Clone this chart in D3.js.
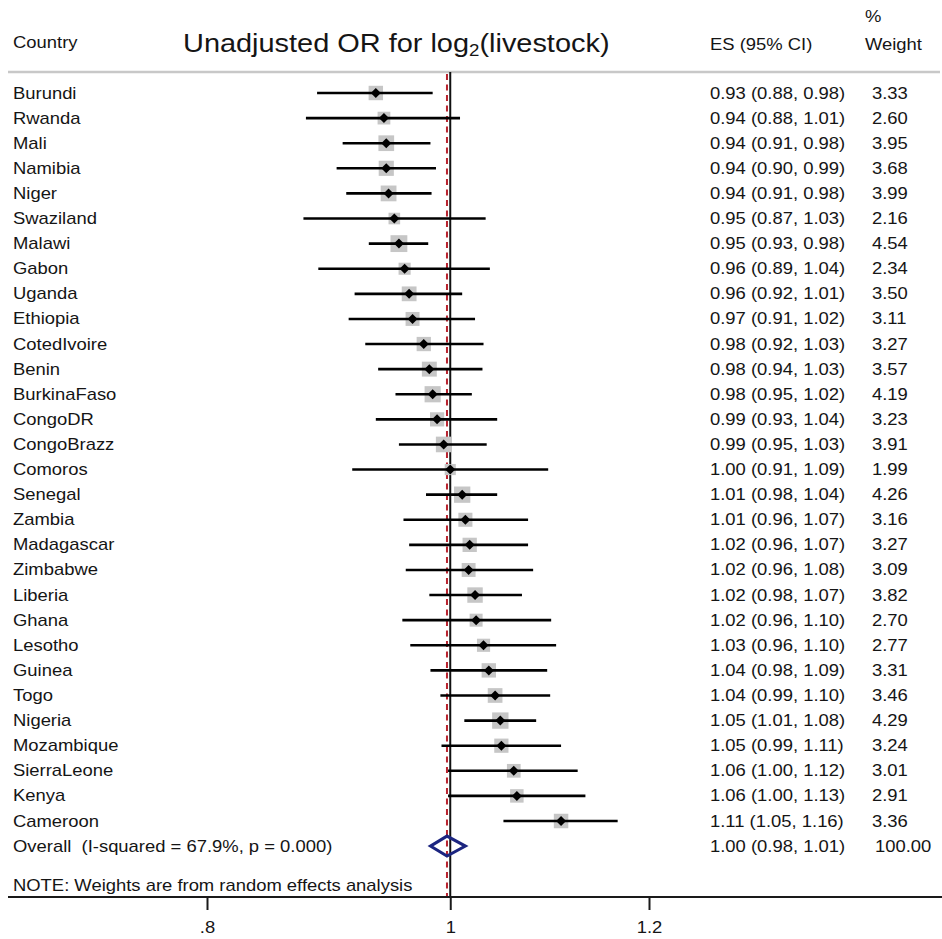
<!DOCTYPE html>
<html><head><meta charset="utf-8">
<script src="https://cdn.jsdelivr.net/npm/d3@7"></script>
<style>
body{margin:0;background:#fff}
text{font-family:"Liberation Sans",Arial,Helvetica,sans-serif;fill:#151515}
</style>
</head><body>
<svg id="c" width="942" height="939"></svg>
<script>
// ---------- data ----------
const countries = ["Burundi","Rwanda","Mali","Namibia","Niger","Swaziland","Malawi","Gabon","Uganda","Ethiopia",
  "CotedIvoire","Benin","BurkinaFaso","CongoDR","CongoBrazz","Comoros","Senegal","Zambia","Madagascar","Zimbabwe",
  "Liberia","Ghana","Lesotho","Guinea","Togo","Nigeria","Mozambique","SierraLeone","Kenya","Cameroon"];
const es = [0.934,0.941,0.943,0.943,0.945,0.950,0.954,0.959,0.963,0.966,
  0.976,0.981,0.984,0.988,0.994,1.000,1.011,1.014,1.018,1.017,
  1.023,1.024,1.031,1.036,1.042,1.047,1.048,1.060,1.063,1.107];
const lo = [0.885,0.876,0.906,0.901,0.909,0.874,0.928,0.886,0.916,0.911,
  0.925,0.936,0.951,0.934,0.954,0.914,0.978,0.958,0.963,0.960,
  0.981,0.957,0.964,0.982,0.991,1.013,0.992,0.998,0.998,1.050];
const hi = [0.984,1.009,0.982,0.987,0.983,1.033,0.980,1.037,1.011,1.023,
  1.031,1.030,1.020,1.044,1.034,1.094,1.044,1.074,1.074,1.079,
  1.068,1.097,1.102,1.093,1.096,1.082,1.107,1.124,1.132,1.166];
const weights = [3.33,2.60,3.95,3.68,3.99,2.16,4.54,2.34,3.50,3.11,
  3.27,3.57,4.19,3.23,3.91,1.99,4.26,3.16,3.27,3.09,
  3.82,2.70,2.77,3.31,3.46,4.29,3.24,3.01,2.91,3.36];
const esLabels = ["0.93 (0.88, 0.98)","0.94 (0.88, 1.01)","0.94 (0.91, 0.98)","0.94 (0.90, 0.99)","0.94 (0.91, 0.98)",
  "0.95 (0.87, 1.03)","0.95 (0.93, 0.98)","0.96 (0.89, 1.04)","0.96 (0.92, 1.01)","0.97 (0.91, 1.02)",
  "0.98 (0.92, 1.03)","0.98 (0.94, 1.03)","0.98 (0.95, 1.02)","0.99 (0.93, 1.04)","0.99 (0.95, 1.03)",
  "1.00 (0.91, 1.09)","1.01 (0.98, 1.04)","1.01 (0.96, 1.07)","1.02 (0.96, 1.07)","1.02 (0.96, 1.08)",
  "1.02 (0.98, 1.07)","1.02 (0.96, 1.10)","1.03 (0.96, 1.10)","1.04 (0.98, 1.09)","1.04 (0.99, 1.10)",
  "1.05 (1.01, 1.08)","1.05 (0.99, 1.11)","1.06 (1.00, 1.12)","1.06 (1.00, 1.13)","1.11 (1.05, 1.16)"];
const overallES = [0.997];
const overallCI = [0.982, 1.014];
const overallLabel = "Overall  (I-squared = 67.9%, p = 0.000)";
const overallESLabel = "1.00 (0.98, 1.01)";
const overallWeight = "100.00";
const tickValues = [0.8, 1, 1.2];
const tickLabels = [".8", "1", "1.2"];

// ---------- layout ----------
const SX = 1.1;      // horizontal text stretch of the reference
const FS = 16.75;    // body font size
const svg = d3.select("#c");
svg.append("rect").attr("width",942).attr("height",939).attr("fill","#fff");

const x = d3.scaleLog().domain([0.8, 1.2]).range([207, 649]);
const y = d3.scaleLinear().domain([0, countries.length - 1]).range([93, 821]);
const yOverall = y(countries.length);
const axisY = 897, topY = 72;
const boxK = 7.9;

function txt(px, py, s, size, anchor) {
  return svg.append("text")
    .attr("transform", `translate(${px},${py}) scale(${SX},1)`)
    .attr("font-size", size).attr("text-anchor", anchor || "start")
    .attr("xml:space","preserve").style("white-space","pre")
    .text(s);
}

// headers
txt(13, 48, "Country", FS);
const title = svg.append("text")
  .attr("transform", `translate(183,52) scale(${SX},1)`)
  .attr("font-size", 26.3);
title.append("tspan").text("Unadjusted OR for log");
title.append("tspan").attr("font-size", 17).attr("dy", 4).text("2");
title.append("tspan").attr("dy", -4).text("(livestock)");
txt(710, 50, "ES (95% CI)", FS);
txt(865, 22, "%", FS);
txt(865, 50, "Weight", FS);

// separator
svg.append("line").attr("x1",8).attr("x2",940).attr("y1",topY).attr("y2",topY)
  .attr("stroke","#c8c8c8").attr("stroke-width",2.5);

// reference lines
svg.append("line").attr("x1",x(1)).attr("x2",x(1)).attr("y1",topY).attr("y2",axisY)
  .attr("stroke","#111").attr("stroke-width",2);
svg.append("line").attr("x1",x(overallES[0])).attr("x2",x(overallES[0])).attr("y1",topY+2).attr("y2",axisY)
  .attr("stroke","#b8232f").attr("stroke-width",2).attr("stroke-dasharray","6,4.5");

// study rows
const rows = countries.map((c,i)=>({c, es:es[i], lo:lo[i], hi:hi[i], w:weights[i], lab:esLabels[i], i}));
const g = svg.append("g");
g.selectAll("rect.box").data(rows).join("rect").attr("class","box")
  .attr("x", d => x(d.es) - boxK*Math.sqrt(d.w)/2)
  .attr("y", d => y(d.i) - boxK*Math.sqrt(d.w)/2)
  .attr("width", d => boxK*Math.sqrt(d.w))
  .attr("height", d => boxK*Math.sqrt(d.w))
  .attr("fill","#c6c6c6");
g.selectAll("line.ci").data(rows).join("line").attr("class","ci")
  .attr("x1", d => x(d.lo)).attr("x2", d => x(d.hi))
  .attr("y1", d => y(d.i)).attr("y2", d => y(d.i))
  .attr("stroke","#000").attr("stroke-width",2.6);
const m = 5;
g.selectAll("path.pt").data(rows).join("path").attr("class","pt")
  .attr("d", d => { const cx = x(d.es), cy = y(d.i);
    return `M${cx-m},${cy}L${cx},${cy-m}L${cx+m},${cy}L${cx},${cy+m}Z`; })
  .attr("fill","#000");

rows.forEach(d => {
  txt(13, y(d.i)+5.5, d.c, FS);
  txt(710, y(d.i)+5.5, d.lab, FS);
  txt(872, y(d.i)+5.5, d.w.toFixed(2), FS);
});

// overall
const dh = 10;
svg.append("path")
  .attr("d", `M${x(overallCI[0])},${yOverall}L${x(overallES[0])},${yOverall-dh}L${x(overallCI[1])},${yOverall}L${x(overallES[0])},${yOverall+dh}Z`)
  .attr("fill","none").attr("stroke","#1c2580").attr("stroke-width",3);
txt(13, yOverall+5.5, overallLabel, FS);
txt(710, yOverall+5.5, overallESLabel, FS);
txt(875, yOverall+5.5, overallWeight, FS);

// note
txt(13, 891, "NOTE: Weights are from random effects analysis", FS);

// axis
svg.append("line").attr("x1",8).attr("x2",942).attr("y1",axisY).attr("y2",axisY)
  .attr("stroke","#1a1a1a").attr("stroke-width",2);
const ax = svg.append("g").attr("transform",`translate(0,${axisY})`)
  .call(d3.axisBottom(x).tickValues(tickValues).tickFormat((d,i)=>tickLabels[i]).tickSize(13).tickPadding(11));
ax.select(".domain").remove();
ax.selectAll(".tick line").attr("stroke","#1a1a1a").attr("stroke-width",2);
ax.selectAll(".tick text").attr("font-size",FS).attr("fill","#151515")
  .attr("font-family","Liberation Sans, Arial, sans-serif")
  .attr("transform",`scale(${SX},1)`);
</script>
</body></html>
